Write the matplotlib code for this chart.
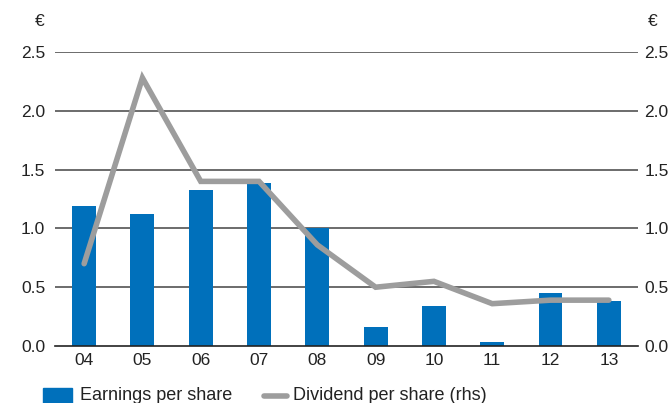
import matplotlib.pyplot as plt
from matplotlib.patches import Rectangle
from matplotlib.lines import Line2D

plt.rcParams['font.family'] = ['Liberation Sans', 'DejaVu Sans']

years = ['04', '05', '06', '07', '08', '09', '10', '11', '12', '13']
eps = [1.19, 1.12, 1.33, 1.39, 1.00, 0.16, 0.34, 0.03, 0.45, 0.38]
dps = [0.70, 2.28, 1.40, 1.40, 0.86, 0.50, 0.55, 0.36, 0.39, 0.39]
yticks = [0.0, 0.5, 1.0, 1.5, 2.0, 2.5]

blue = '#0070bb'
grey = '#9d9d9d'

fig = plt.figure(figsize=(6.72, 4.03), dpi=100)
ax = fig.add_axes([0.0818, 0.1414, 0.8676, 0.7295])
x = list(range(len(years)))

for t in yticks[1:]:
    ax.axhline(t, color='#444444', lw=1.1, zorder=0)
ax.bar(x, eps, width=0.41, color=blue, zorder=2)
ax.set_xlim(-0.5, len(years) - 0.5)
ax.set_ylim(0, 2.5)

ax2 = ax.twinx()
ax2.plot(x, dps, color=grey, lw=4, solid_capstyle='round', solid_joinstyle='miter', zorder=3)
ax2.set_ylim(0, 2.5)

for a, p in ((ax, 7), (ax2, 4.5)):
    for s in a.spines.values():
        s.set_visible(False)
    a.set_yticks(yticks)
    a.set_yticklabels(['%.1f' % t for t in yticks])
    a.tick_params(axis='y', length=0, labelsize=12.5, colors='#222222', pad=p)
ax.spines['bottom'].set_visible(True)
ax.spines['bottom'].set_color('#222222')
ax.spines['bottom'].set_linewidth(1.2)
ax.set_xticks(x)
ax.set_xticklabels(years)
ax.tick_params(axis='x', length=0, labelsize=12.5, colors='#222222', pad=5)

fig.text(40 / 672, 1 - 22 / 403, '€', fontsize=12.5, ha='center', va='center', color='#222222')
fig.text(653 / 672, 1 - 22 / 403, '€', fontsize=12.5, ha='center', va='center', color='#222222')

# legend at the bottom edge
fig.patches.append(Rectangle((43 / 672, 0.0), 29 / 672, 15 / 403, transform=fig.transFigure,
                             color=blue, figure=fig))
fig.text(80 / 672, 1 - 396 / 403, 'Earnings per share', fontsize=13, va='center', color='#222222')
fig.lines.append(Line2D([264 / 672, 287 / 672], [1 - 396 / 403] * 2, transform=fig.transFigure,
                        color=grey, lw=4, solid_capstyle='round', figure=fig))
fig.text(293 / 672, 1 - 396 / 403, 'Dividend per share (rhs)', fontsize=13, va='center', color='#222222')

fig.savefig('out.png', dpi=100)
